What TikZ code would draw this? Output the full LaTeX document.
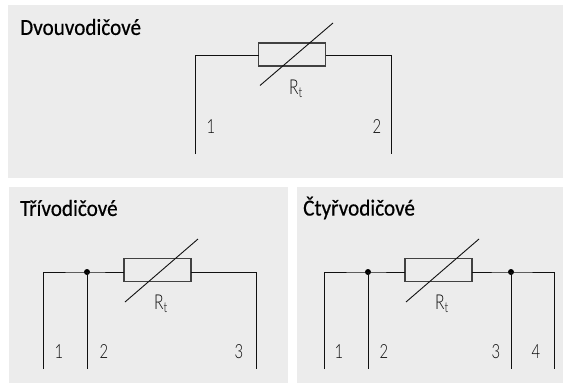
\documentclass[tikz,border=0pt]{standalone}
\usepackage{fontspec}
\setmainfont[FakeStretch=0.76]{Lato Light}
\newfontfamily\titlefont[FakeStretch=0.92,FakeBold=0.5]{Carlito}
\definecolor{panel}{HTML}{ECECEC}
\definecolor{ink}{HTML}{111111}
\definecolor{lab}{HTML}{0A0A0A}
\tikzset{
  x=1pt,y=-1pt,
  panelbox/.style={fill=panel,draw=none},
  wire/.style={draw=ink,line width=1pt},
  resbox/.style={draw=ink!80,line width=1.2pt,fill=none,minimum width=67pt,minimum height=23pt,inner sep=0pt,outer sep=0pt},
  slash/.style={draw=ink,line width=0.9pt},
  dot/.style={circle,fill=black,inner sep=0pt,minimum size=6pt},
  title/.style={font=\titlefont\fontsize{23}{24}\selectfont,text=black,anchor=west,inner sep=0pt},
  lbl/.style={font=\fontsize{19.5}{20}\selectfont,text=lab,inner sep=0pt,anchor=base},
  rlbl/.style={font=\fontsize{20.5}{20}\selectfont,text=lab,inner sep=0pt,anchor=base west},
}
\begin{document}
\begin{tikzpicture}
\useasboundingbox (0,0) rectangle (563,383);
\fill[white] (0,0) rectangle (563,383);
\fill[panelbox] (8,5) rectangle (563,178);
\fill[panelbox] (9,187) rectangle (288,383);
\fill[panelbox] (297,187) rectangle (563,383);
% two-wire
\node[title] (t1) at (20,27) {Dvouvodičové};
\node[resbox] (r1) at (292,54.5) {};
\coordinate (a1) at (195,55); \coordinate (a1e) at (195,154);
\coordinate (b1) at (391,55); \coordinate (b1e) at (391,154);
\draw[wire] (a1e) -- (a1) -- (r1.west |- a1);
\draw[wire] (r1.east |- b1) -- (b1) -- (b1e);
\coordinate (s1a) at (260,85.5); \coordinate (s1b) at (333,23);
\draw[slash] (s1a) -- (s1b);
\node[rlbl] (rt1) at (289,94) {R\textsubscript{t}};
\node[lbl] (l11) at (211,133) {1};
\node[lbl] (l12) at (377,133) {2};
% three-wire
\node[title] (t2) at (20,208) {Třívodičové};
\node[resbox] (r2) at (157.5,270) {};
\coordinate (a2) at (43,272); \coordinate (a2e) at (43,369);
\node[dot] (d2) at (87,272) {};
\coordinate (d2e) at (87,369);
\coordinate (b2) at (256,272); \coordinate (b2e) at (256,369);
\draw[wire] (a2e) -- (a2) -- (d2.center) -- (r2.west |- d2.center);
\draw[wire] (d2.center) -- (d2e);
\draw[wire] (r2.east |- b2) -- (b2) -- (b2e);
\coordinate (s2a) at (125,302); \coordinate (s2b) at (198,239);
\draw[slash] (s2a) -- (s2b);
\node[rlbl] (rt2) at (154,309) {R\textsubscript{t}};
\node[lbl] (l21) at (59,358) {1};
\node[lbl] (l22) at (104,358) {2};
\node[lbl] (l23) at (239,358) {3};
% four-wire
\node[title] (t3) at (303,208) {Čtyřvodičové};
\node[resbox] (r3) at (438.5,270) {};
\coordinate (a3) at (324,272); \coordinate (a3e) at (324,369);
\node[dot] (d3) at (368,272) {};
\coordinate (d3e) at (368,369);
\node[dot] (d4) at (511,272) {};
\coordinate (d4e) at (511,369);
\coordinate (b3) at (554,272); \coordinate (b3e) at (554,369);
\draw[wire] (a3e) -- (a3) -- (d3.center) -- (r3.west |- d3.center);
\draw[wire] (d3.center) -- (d3e);
\draw[wire] (r3.east |- d4.center) -- (d4.center) -- (b3) -- (b3e);
\draw[wire] (d4.center) -- (d4e);
\coordinate (s3a) at (406,302); \coordinate (s3b) at (479,239);
\draw[slash] (s3a) -- (s3b);
\node[rlbl] (rt3) at (435,309) {R\textsubscript{t}};
\node[lbl] (l31) at (339,358) {1};
\node[lbl] (l32) at (384,358) {2};
\node[lbl] (l33) at (496,358) {3};
\node[lbl] (l34) at (536,358) {4};
\end{tikzpicture}
\end{document}
